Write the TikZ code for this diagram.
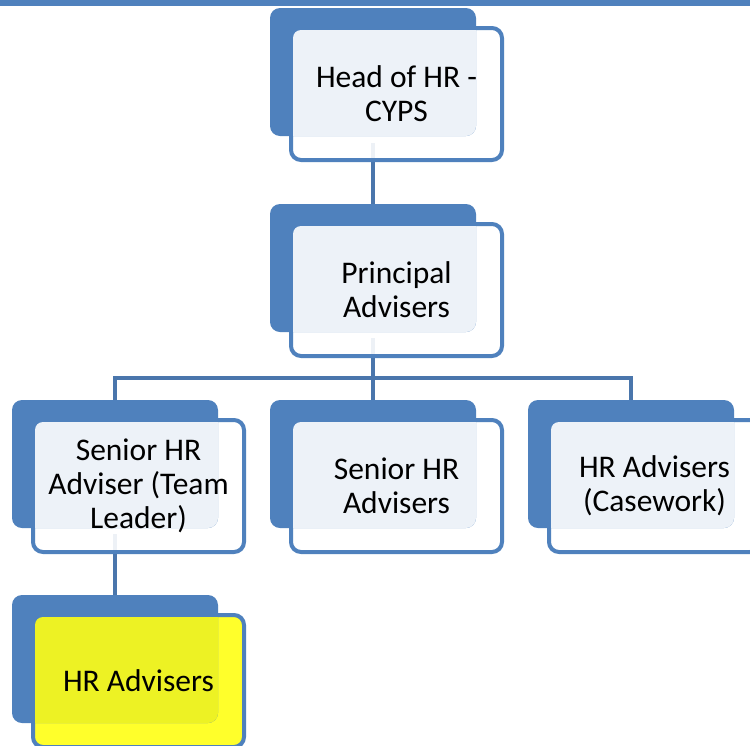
\documentclass[tikz,border=0pt]{standalone}
\usepackage{fontspec}
\setmainfont{Carlito}
\definecolor{ofblue}{RGB}{79,129,189}
\definecolor{lineblue}{RGB}{74,118,172}
\definecolor{hiyellow}{RGB}{255,255,20}
\pgfdeclarelayer{bg}
\pgfsetlayers{bg,main}
\tikzset{
  backbox/.style={fill=ofblue, draw=none, rounded corners=10pt, minimum width=206pt, minimum height=128pt, anchor=north west, inner sep=0pt, outer sep=0pt},
  frontbox/.style={draw=ofblue, line width=4pt, fill opacity=0.9, rounded corners=10pt, minimum width=211pt, minimum height=132pt, anchor=north west, inner sep=0pt, outer sep=0pt},
  boxlabel/.style={font=\fontsize{31.5}{34}\selectfont, align=center, text=black, inner sep=0pt},
  conn/.style={draw=lineblue, line width=4.5pt},
}
\newcommand\orgbox[5]{%
  \node[frontbox, fill=#4] (#1box) at (#2+21, #3+20) {};
  \node[backbox] (#1back) at (#2,#3) {};
  \begin{scope}
    \clip[rounded corners=10pt] (#1back.north west) rectangle (#1back.south east);
    \fill[#4, fill opacity=0.9, rounded corners=8pt] ([xshift=2pt,yshift=-2pt]#1box.north west) rectangle ([xshift=-2pt,yshift=2pt]#1box.south east);
  \end{scope}
  \node[boxlabel] (#1text) at (#1box.center) {#5};
}
\begin{document}
\begin{tikzpicture}[x=1pt,y=-1pt]
\useasboundingbox (0,0) rectangle (750,745);
\begin{pgfonlayer}{bg}
  \fill[white] (0,0) rectangle (750,745);
\end{pgfonlayer}
\clip (0,0) rectangle (750,745);
\fill[ofblue] (0,0) rectangle (750,6);
\orgbox{head}{270}{8}{white}{Head of HR -\\CYPS}
\orgbox{prin}{270}{204}{white}{Principal\\Advisers}
\orgbox{tl}{12}{400}{white}{Senior HR\\Adviser (Team\\Leader)}
\orgbox{mid}{270}{400}{white}{Senior HR\\Advisers}
\orgbox{case}{528}{400}{white}{HR Advisers\\(Casework)}
\orgbox{hra}{12}{595}{hiyellow}{HR Advisers}
\coordinate (junction) at (373,378);
\begin{pgfonlayer}{bg}
  \draw[conn] ([yshift=-7pt]headback.south) -- (prinback.north);
  \draw[conn] ([yshift=-6pt]prinback.south) -- (junction);
  \draw[conn] (tlback.north) |- (junction) -| (caseback.north);
  \draw[conn] (junction) -- (midback.north);
  \draw[conn] ([yshift=-6pt]tlback.south) -- (hraback.north);
\end{pgfonlayer}
\end{tikzpicture}
\end{document}
